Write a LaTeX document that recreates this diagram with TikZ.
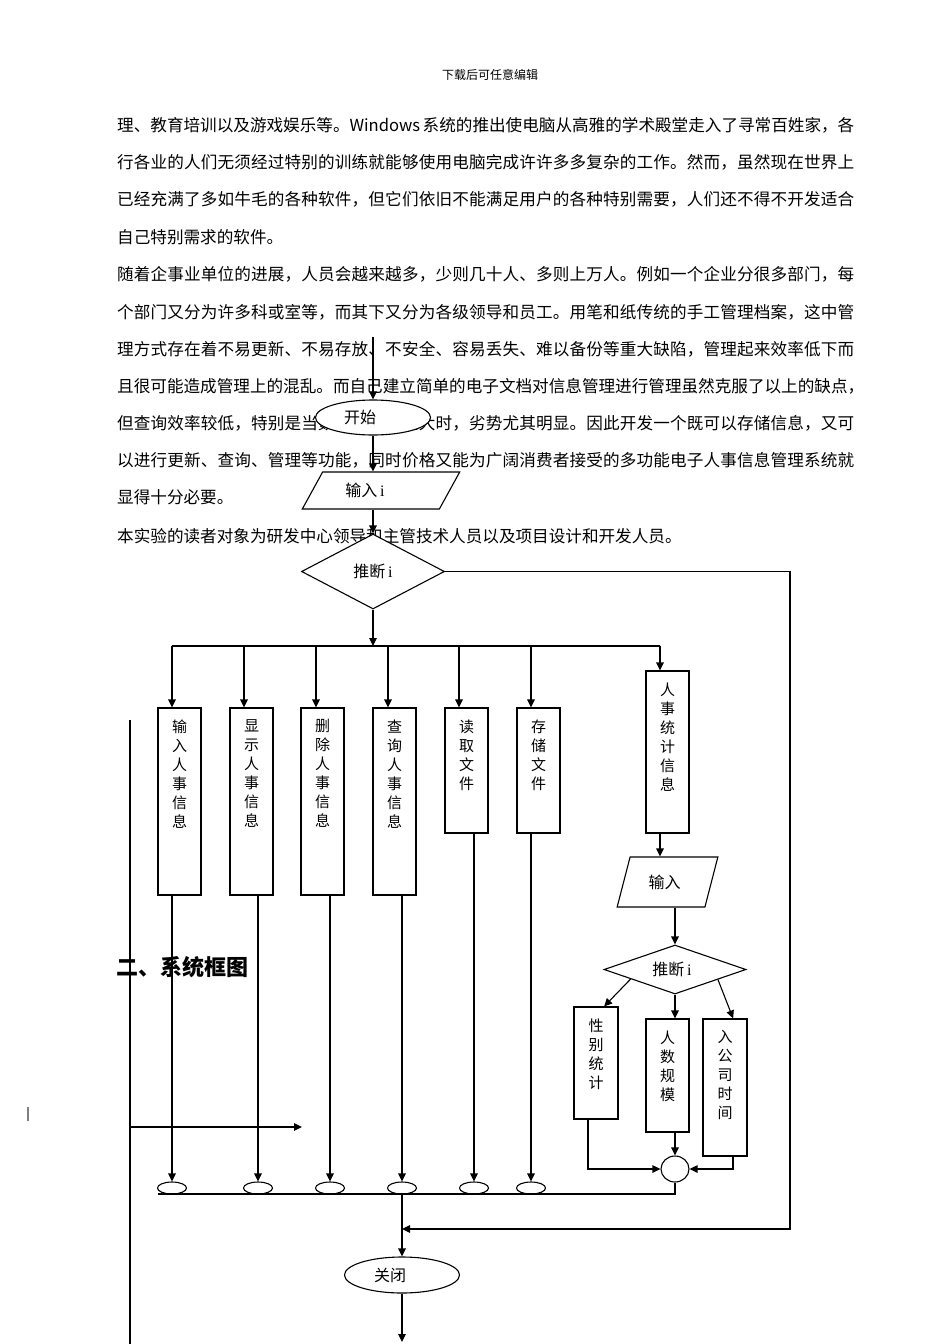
\documentclass[tikz,border=0pt]{standalone}
\usepackage{fontspec}
\setmainfont{Noto Sans CJK SC}
\newfontfamily\lserif{Liberation Serif}
\usetikzlibrary{shapes.geometric,arrows.meta,calc}
\def\spreadmark{QQENDQQ}
\def\spreadline#1#2#3\spreadstop{\hbox to #1{#2\spreadA#3{QQENDQQ}}}
\def\spreadA#1{\def\spreadtmp{#1}\ifx\spreadtmp\spreadmark\else\hfil#1\expandafter\spreadA\fi}
\newcommand\vtext[2]{\parbox[c][#1][t]{40pt}{\centering\fontsize{15}{19}\selectfont\vspace*{11.5pt}#2\par}}
\newcommand\padr[1]{\rule{#1}{0pt}}
\tikzset{
  ln/.style={line width=1.1pt, draw=black},
  arr/.style={ln, -{Triangle[length=8pt,width=7.5pt]}},
  vbox/.style={rectangle, draw, line width=1.1pt, fill=white, inner sep=0pt},
  oval/.style={ellipse, draw, line width=1.1pt, fill=white, inner sep=0pt},
  para/.style={trapezium, trapezium stretches=true, draw, line width=1.1pt, fill=white, inner sep=0pt},
  dmd/.style={diamond, draw, line width=1.1pt, fill=white, inner sep=0pt},
  bodyline/.style={anchor=west, inner sep=0pt, font=\fontsize{16.6}{20}\selectfont},
  lbl/.style={font=\fontsize{16}{19}\selectfont},
}
\begin{document}
\begin{tikzpicture}[x=1pt,y=-1pt]
\fill[white] (0,0) rectangle (950,1344);
\useasboundingbox (0,0) rectangle (950,1344);

% header and body text
\node[inner sep=0pt, font=\fontsize{12}{14}\selectfont] (hdr) at (490,75) {下载后可任意编辑};
\node[bodyline] (l1) at (117,125) {\spreadline{737pt}理、教育培训以及游戏娱乐等。{Windows }系统的推出使电脑从高雅的学术殿堂走入了寻常百姓家，各\spreadstop};
\node[bodyline] (l2) at (117,162) {\spreadline{737pt}行各业的人们无须经过特别的训练就能够使用电脑完成许许多多复杂的工作。然而，虽然现在世界上\spreadstop};
\node[bodyline] (l3) at (117,199) {\spreadline{737pt}已经充满了多如牛毛的各种软件，但它们依旧不能满足用户的各种特别需要，人们还不得不开发适合\spreadstop};
\node[bodyline] (l4) at (117,237) {自己特别需求的软件。};
\node[bodyline] (l5) at (117,274) {\spreadline{737pt}随着企事业单位的进展，人员会越来越多，少则几十人、多则上万人。例如一个企业分很多部门，每\spreadstop};
\node[bodyline] (l6) at (117,312) {\spreadline{737pt}个部门又分为许多科或室等，而其下又分为各级领导和员工。用笔和纸传统的手工管理档案，这中管\spreadstop};
\node[bodyline] (l7) at (117,349) {\spreadline{737pt}理方式存在着不易更新、不易存放、不安全、容易丢失、难以备份等重大缺陷，管理起来效率低下而\spreadstop};
\node[bodyline] (l8) at (117,386) {\spreadline{745pt}且很可能造成管理上的混乱。而自己建立简单的电子文档对信息管理进行管理虽然克服了以上的缺点，\spreadstop};
\node[bodyline] (l9) at (117,423) {\spreadline{737pt}但查询效率较低，特别是当数据量非常庞大时，劣势尤其明显。因此开发一个既可以存储信息，又可\spreadstop};
\node[bodyline] (l10) at (117,460) {\spreadline{737pt}以进行更新、查询、管理等功能，同时价格又能为广阔消费者接受的多功能电子人事信息管理系统就\spreadstop};
\node[bodyline] (l11) at (117,497) {显得十分必要。};
\node[bodyline] (l12) at (117,536) {本实验的读者对象为研发中心领导和主管技术人员以及项目设计和开发人员。};
\node[anchor=west, inner sep=0pt, font=\fontsize{22}{26}\selectfont\bfseries] (h2) at (116,967) {二、系统框图};

% main flow shapes
\node[oval, lbl, minimum width=115pt, minimum height=35pt] (start) at (373,417.5) {开始\padr{26pt}};
\node[para, lbl, trapezium left angle=50, trapezium right angle=130, minimum width=158pt, minimum height=37pt] (in1) at (381,490.5) {输入\,{\lserif i}\padr{32pt}};
\node[dmd, lbl, aspect=1.9, minimum width=143pt, minimum height=75pt] (dia) at (373,571.5) {推断\,{\lserif i}};

\node[vbox, minimum width=43pt] (b1) at (179.5,801.5) {\vtext{187pt}{输\\入\\人\\事\\信\\息}};
\node[vbox, minimum width=43pt] (b2) at (251.5,801.5) {\vtext{187pt}{显\\示\\人\\事\\信\\息}};
\node[vbox, minimum width=43pt] (b3) at (322.5,801.5) {\vtext{187pt}{删\\除\\人\\事\\信\\息}};
\node[vbox, minimum width=43pt] (b4) at (394.5,801.5) {\vtext{187pt}{查\\询\\人\\事\\信\\息}};
\node[vbox, minimum width=43pt] (b5) at (466.5,770.5) {\vtext{125pt}{读\\取\\文\\件}};
\node[vbox, minimum width=43pt] (b6) at (538.5,770.5) {\vtext{125pt}{存\\储\\文\\件}};
\node[vbox, minimum width=43pt] (b7) at (667.5,752) {\vtext{162pt}{人\\事\\统\\计\\信\\息}};

% statistics sub-flow
\node[para, lbl, trapezium left angle=66, trapezium right angle=114, minimum width=101pt, minimum height=50pt] (in2) at (667.5,882) {输入\padr{6pt}};
\node[dmd, lbl, aspect=2.9, minimum width=142pt, minimum height=49pt] (dia2) at (675,969.5) {推断\,{\lserif i}\padr{6pt}};
\node[vbox, minimum width=44pt] (b8) at (596,1063) {\vtext{112pt}{性\\别\\统\\计}};
\node[vbox, minimum width=43pt] (b9) at (667.5,1075.5) {\vtext{113pt}{人\\数\\规\\模}};
\node[vbox, minimum width=44pt] (b10) at (725,1087.5) {\vtext{137pt}{入\\公\\司\\时\\间}};
\node[oval, minimum width=28pt, minimum height=26pt] (c) at (675,1169) {};

% collectors
\node[oval, minimum width=29pt, minimum height=12pt] (e1) at (172,1188) {};
\node[oval, minimum width=29pt, minimum height=12pt] (e2) at (258,1188) {};
\node[oval, minimum width=29pt, minimum height=12pt] (e3) at (330,1188) {};
\node[oval, minimum width=29pt, minimum height=12pt] (e4) at (402,1188) {};
\node[oval, minimum width=29pt, minimum height=12pt] (e5) at (474,1188) {};
\node[oval, minimum width=29pt, minimum height=12pt] (e6) at (531,1188) {};
\node[oval, lbl, minimum width=115pt, minimum height=36pt] (close) at (402,1275) {关闭\padr{24pt}};

% coordinates
\coordinate (top) at (373,337);
\coordinate (bj) at (373,646);
\coordinate (q1) at (172,646);
\coordinate (q2) at (244,646);
\coordinate (q3) at (316,646);
\coordinate (q4) at (388,646);
\coordinate (q5) at (459,646);
\coordinate (q6) at (531,646);
\coordinate (q7) at (660,646);
\coordinate (bl) at (158,1194);
\coordinate (rt) at (790,571.5);
\coordinate (rb) at (790,1229);
\coordinate (endp) at (402,1342);
\coordinate (L1) at (130,720);
\coordinate (L2) at (130,1344);
\coordinate (L3) at (130,1127);
\coordinate (L4) at (302,1127);
\coordinate (m1) at (28,1107);
\coordinate (m2) at (28,1121);
\coordinate (o8) at (588,1119);
\coordinate (o10) at (733,1156);

% connectors
\draw[arr] (top) -- (start.north);
\draw[arr] (start.south) -- (start.south |- in1.north);
\draw[arr] (start.south |- in1.south) -- (dia.north);
\draw[arr] (dia.south) -- (bj);
\draw[ln] (q1) -- (q7);
\draw[arr] (q1) -- (q1 |- b1.north);
\draw[arr] (q2) -- (q2 |- b2.north);
\draw[arr] (q3) -- (q3 |- b3.north);
\draw[arr] (q4) -- (q4 |- b4.north);
\draw[arr] (q5) -- (q5 |- b5.north);
\draw[arr] (q6) -- (q6 |- b6.north);
\draw[arr] (q7) -- (q7 |- b7.north);
\draw[arr] (e1 |- b1.south) -- (e1.north);
\draw[arr] (e2 |- b2.south) -- (e2.north);
\draw[arr] (e3 |- b3.south) -- (e3.north);
\draw[arr] (e4 |- b4.south) -- (e4.north);
\draw[arr] (e5 |- b5.south) -- (e5.north);
\draw[arr] (e6 |- b6.south) -- (e6.north);
\draw[arr] (q7 |- b7.south) -- (q7 |- in2.north);
\draw[arr] (dia2.north |- in2.south) -- (dia2.north);
\draw[arr] ($(dia2.west)!0.38!(dia2.south)$) -- ($(b8.north west)!0.68!(b8.north east)$);
\draw[arr] (dia2.south) -- (dia2.south |- b9.north);
\draw[arr] ($(dia2.east)!0.4!(dia2.south)$) -- ($(b10.north west)!0.68!(b10.north east)$);
\draw[arr] (dia2.south |- b9.south) -- (c.north);
\draw[arr] (o8) |- (c.west);
\draw[arr] (o10) |- (c.east);
\draw[ln] (c.south) -- (c.south |- bl) -- (bl);
\draw[arr] (e4.south) -- (close.north);
\draw[arr] (dia.east) -- (rt) -- (rb) -- (rb -| e4);
\draw[arr] (close.south) -- (endp);
\draw[ln] (L1) -- (L2);
\draw[arr] (L3) -- (L4);
\draw[line width=1.3pt, gray] (m1) -- (m2);
\end{tikzpicture}
\end{document}
